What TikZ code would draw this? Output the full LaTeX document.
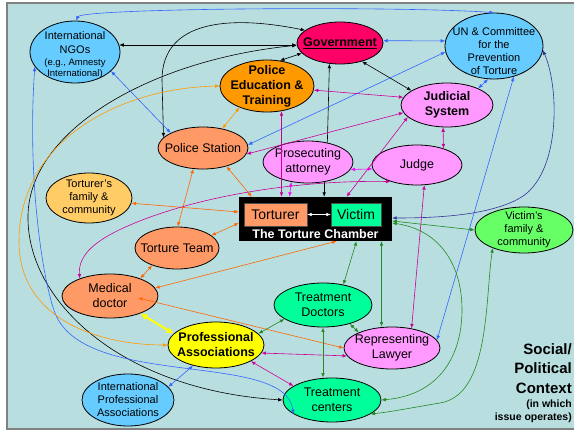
\documentclass[tikz,border=0pt]{standalone}
\usepackage{fontspec}
\setmainfont{Liberation Sans}
\usetikzlibrary{shapes.geometric,arrows.meta}
\definecolor{bgc}{RGB}{185,222,224}
\definecolor{skyb}{RGB}{102,204,255}
\definecolor{govc}{RGB}{255,0,102}
\definecolor{poledc}{RGB}{255,153,0}
\definecolor{salmon}{RGB}{255,153,102}
\definecolor{pinkv}{RGB}{255,153,255}
\definecolor{tfamc}{RGB}{255,204,102}
\definecolor{spring}{RGB}{0,255,153}
\definecolor{vfamc}{RGB}{102,255,102}
\definecolor{yel}{RGB}{255,255,0}
\definecolor{blu}{RGB}{51,102,255}
\definecolor{navyc}{RGB}{51,51,153}
\definecolor{ord}{RGB}{255,102,0}
\definecolor{orl}{RGB}{255,153,0}
\definecolor{mag}{RGB}{204,0,153}
\definecolor{pnk}{RGB}{255,0,255}
\definecolor{grn}{RGB}{34,139,34}
\begin{document}
\begin{tikzpicture}[>={Latex[length=4.5pt,width=3.6pt]},x=1pt,y=-1pt,
	ell/.style={ellipse,draw,line width=0.8pt,inner xsep=-20pt,inner ysep=-12pt,align=center,font=\fontsize{12.5}{15}\selectfont},
	lnk/.style={<->,line width=0.6pt},
	one/.style={->,line width=0.6pt}]
		\useasboundingbox (0,0) rectangle (574,431);
		\fill[white] (0,0) rectangle (574,431);
		\fill[bgc] (7,3) rectangle (574,429);
		\draw[gray,line width=1.5pt] (574,3) -- (7,3) -- (7,429) -- (574,429);
		% actors
		\node[ell,fill=skyb,minimum width=90pt,minimum height=62pt,font=\fontsize{11}{14}\selectfont] (ngo) at (75,52) {\rule{0pt}{14pt}International\\NGOs\\[-2pt]{\fontsize{9.5}{11}\selectfont (e.g., Amnesty}\\[-3pt]{\fontsize{9.5}{11}\selectfont International)}};
		\node[ell,fill=govc,minimum width=86pt,minimum height=42pt,font=\bfseries\fontsize{12.5}{15}\selectfont] (gov) at (340,43) {\underline{Government}};
		\node[ell,fill=skyb,minimum width=98pt,minimum height=66pt,font=\fontsize{11}{13}\selectfont] (un) at (494,46) {\rule{0pt}{18pt}UN \& Committee\\for the\\Prevention\\of Torture};
		\node[ell,fill=poledc,minimum width=94pt,minimum height=52pt,font=\bfseries\fontsize{12.5}{15}\selectfont] (poled) at (267,86) {Police\\Education \&\\Training};
		\node[ell,fill=pinkv,minimum width=92pt,minimum height=44pt,font=\bfseries\fontsize{12.5}{15}\selectfont] (jud) at (447,105) {Judicial\\System};
		\node[ell,fill=salmon,minimum width=90pt,minimum height=42pt] (pst) at (203,148) {Police Station};
		\node[ell,fill=pinkv,minimum width=90pt,minimum height=42pt] (pros) at (308,162) {Prosecuting\\attorney};
		\node[ell,fill=pinkv,minimum width=90pt,minimum height=40pt] (judge) at (417,165) {Judge};
		\node[ell,fill=tfamc,minimum width=86pt,minimum height=50pt,font=\fontsize{11}{13.3}\selectfont] (tfam) at (89,198) {Torturer's\\family \&\\community};
		\node[ell,fill=vfamc,minimum width=98pt,minimum height=46pt,font=\fontsize{11}{13}\selectfont] (vfam) at (524,230) {Victim's\\family \&\\community};
		\node[ell,fill=salmon,minimum width=84pt,minimum height=42pt] (tteam) at (177,248) {Torture Team};
		\node[ell,fill=salmon,minimum width=96pt,minimum height=44pt] (mdoc) at (110,296) {Medical\\doctor};
		\node[ell,fill=spring,minimum width=98pt,minimum height=44pt] (tdoc) at (323,305) {Treatment\\Doctors};
		\node[ell,fill=yel,minimum width=96pt,minimum height=46pt,font=\bfseries\fontsize{12.5}{15}\selectfont] (prof) at (216,345) {Professional\\Associations};
		\node[ell,fill=pinkv,minimum width=96pt,minimum height=42pt] (lawyer) at (392,348) {Representing\\Lawyer};
		\node[ell,fill=skyb,minimum width=92pt,minimum height=52pt,font=\fontsize{11}{13}\selectfont] (ipa) at (128,400) {International\\Professional\\Associations};
		\node[ell,fill=spring,minimum width=98pt,minimum height=44pt] (tcent) at (332,400) {Treatment\\centers};
		% the chamber
		\node[fill=black,minimum width=153pt,minimum height=44pt,inner sep=0pt,
			label={[anchor=base,yshift=3pt,text=white,font=\bfseries\fontsize{12.5}{15}\selectfont]south:The Torture Chamber}] (chamber) at (315.5,219) {};
		\node[fill=salmon,draw=black!70,line width=0.4pt,minimum width=63pt,minimum height=23pt,inner sep=0pt,font=\fontsize{14}{16}\selectfont] (torturer) at (275.5,214.5) {Torturer};
		\node[fill=spring,draw=black!70,line width=0.4pt,minimum width=50pt,minimum height=23pt,inner sep=0pt,font=\fontsize{14}{16}\selectfont] (victim) at (356,214.5) {Victim};
		\coordinate (chA) at ([xshift=13pt]chamber.north west);
		\coordinate (chB) at ([xshift=-26pt]chamber.north);
		\coordinate (chC) at ([xshift=31pt]chamber.north);
		\coordinate (chD) at ([xshift=21pt]chamber.south);
		\coordinate (chE) at ([xshift=41pt]chamber.south);
		\coordinate (chF) at ([xshift=66pt]chamber.south);
		% black
		\draw[lnk] (pst.165) -- (162,80) .. controls (162,20) and (230,15) .. (gov.160);
		\draw[lnk] (ngo.9) -- (ngo.9 -| gov.west);
		\draw[lnk] (gov.183) .. controls (150,60) and (30,130) .. (28,215) .. controls (26,300) and (120,390) .. (tcent.180);
		\draw[lnk] (poled.63) -- (gov.195);
		\draw[lnk] (gov.320) -- (jud.158);
		\draw[one] (pros.45) -- (gov.243);
		\draw[one] (pros.-51) -- (pros.-51 |- chamber.north);
		% blue
		\draw[lnk,blu] (ngo.88) .. controls (82,8) and (400,6) .. (un.90);
		\draw[lnk,blu] (gov.3) -- (un.174);
		\draw[lnk,blu] (ngo.-28) -- (pst.155);
		\draw[lnk,blu] (un.187) -- (pst.4);
		\draw[lnk,blu] (un.-57) -- (lawyer.10);
		\draw[lnk,blu] (un.-100) -- (jud.28);
		\draw[lnk,blu] (ngo.200) .. controls (27,180) and (43,282) .. (55,313) .. controls (85,390) and (285,350) .. (tcent.200);
		\draw[lnk,blu] (ipa.18) -- (prof.222);
		\draw[lnk,navyc] (un.-5) .. controls (560,90) and (560,175) .. (520,198) .. controls (490,215) and (440,218) .. ([yshift=1pt]chamber.east);
		% orange
		\draw[lnk,orl] (poled.180) .. controls (120,88) and (20,140) .. (19,240) .. controls (18,320) and (100,345) .. (prof.180);
		\draw[lnk,orl] (poled.218) -- (pst.45);
		\draw[lnk,ord] (pst.-38) -- (chA);
		\draw[lnk,ord] (tfam.-7) -- ([yshift=7pt]chamber.west);
		\draw[lnk,ord] (pst.245) -- (tteam.88);
		\draw[lnk,ord] (tteam.20) -- ([yshift=-4pt]chamber.west);
		\draw[lnk,ord] (tteam.215) -- (mdoc.30);
		\draw[lnk,ord] (mdoc.10) -- (chD);
		\draw[lnk,ord] ([xshift=28pt,yshift=-2pt]mdoc.center) -- (lawyer.180);
		% magenta
		\draw[lnk,mag] (poled.-5) -- (jud.170);
		\draw[lnk,mag] (poled.-60) -- (poled.-60 |- chamber.north);
		\draw[lnk,mag] (pst.-8) -- (jud.190);
		\draw[lnk,pnk] (pros.-10) -- (judge.185);
		\draw[lnk,pnk] (pros.230) -- (chB);
		\draw[lnk,mag] (judge.212) .. controls (300,180) and (200,195) .. (130,225) .. controls (95,240) and (78,255) .. (mdoc.150);
		\draw[lnk,mag] (jud.197) -- (chC);
		\draw[lnk,mag] (jud.-100) -- (judge.32);
		\draw[lnk,mag] (judge.-70) -- (lawyer.45);
		\draw[lnk,mag] (prof.-10) -- (lawyer.190);
		\draw[lnk,mag] (prof.-25) -- (tcent.160);
		% green
		\draw[lnk,grn] ([yshift=-2pt]chamber.east) -- (vfam.180);
		\draw[lnk,grn] ([yshift=-4pt]chamber.east) .. controls (440,230) and (462,265) .. (462,310) .. controls (462,355) and (440,395) .. (tcent.0);
		\draw[lnk,grn] (vfam.210) .. controls (485,300) and (490,395) .. (440,403) .. controls (410,408) and (390,412) .. (tcent.-20);
		\draw[lnk,grn] (chE) -- (tdoc.45);
		\draw[lnk,grn] (chF) -- (chF |- lawyer.north);
		\draw[lnk,grn] (tdoc.-35) -- (lawyer.155);
		\draw[lnk,grn] (tdoc.south) -- (tdoc.south |- tcent.north);
		\draw[lnk,grn] (tdoc.200) -- (prof.15);
		\draw[{Latex[length=7pt,width=7pt]}-{Latex[length=7pt,width=7pt]},line width=2pt,yel] (mdoc.-30) -- (prof.165);
		\draw[lnk,white] (torturer) -- (victim);
		% context
		\node[anchor=north east,align=right,inner sep=0pt,font=\bfseries\fontsize{15}{19.5}\selectfont] (ctx) at (572,343) {Social/\\Political\\Context};
		\node[anchor=north east,align=right,inner sep=0pt,font=\bfseries\fontsize{10.5}{13}\selectfont] (ctxnote) at ([yshift=-6pt]ctx.south east) {(in which\\issue operates)};
\end{tikzpicture}
\end{document}
